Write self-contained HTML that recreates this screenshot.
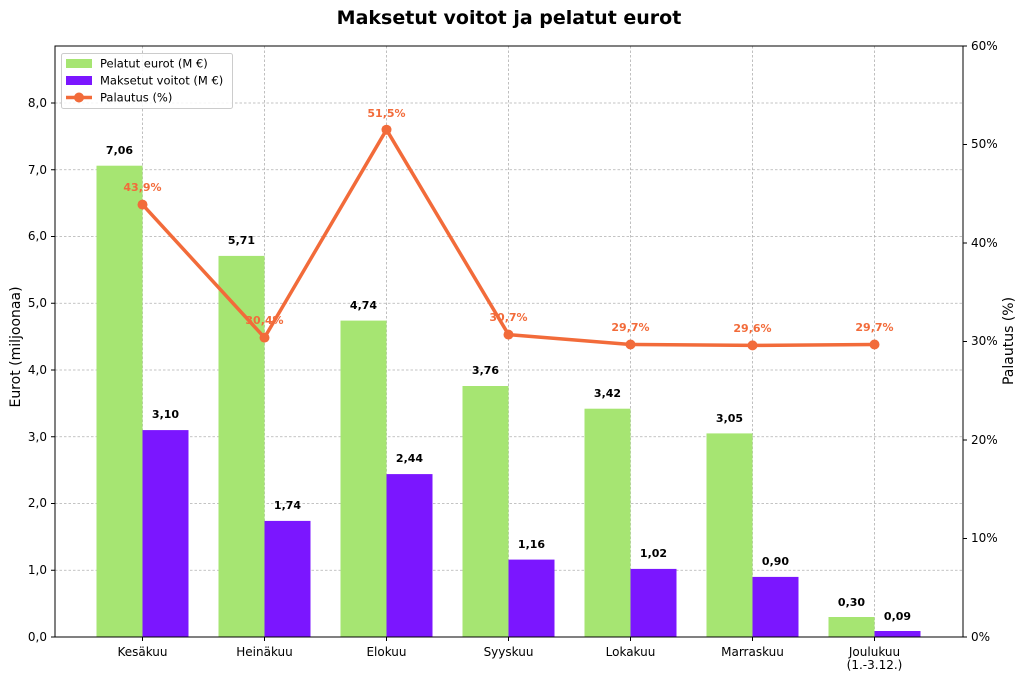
<!DOCTYPE html>
<html><head><meta charset="utf-8"><style>body{margin:0;background:#fff}svg{display:block;font-family:"DejaVu Sans","Liberation Sans",sans-serif}</style></head>
<body>
<svg width="1024" height="679" viewBox="0 0 1024 679" xmlns="http://www.w3.org/2000/svg">
<rect width="1024" height="679" fill="#fff"/>
<text x="509" y="24" text-anchor="middle" font-size="19" font-weight="bold">Maksetut voitot ja pelatut eurot</text>
<g stroke="#b0b0b0" stroke-width="0.8" stroke-dasharray="2.5,2">
<line x1="55" x2="963" y1="570.25" y2="570.25"/><line x1="55" x2="963" y1="503.5" y2="503.5"/><line x1="55" x2="963" y1="436.75" y2="436.75"/><line x1="55" x2="963" y1="370" y2="370"/><line x1="55" x2="963" y1="303.25" y2="303.25"/><line x1="55" x2="963" y1="236.5" y2="236.5"/><line x1="55" x2="963" y1="169.75" y2="169.75"/><line x1="55" x2="963" y1="103" y2="103"/>
<line y1="46" y2="637" x1="142.5" x2="142.5"/><line y1="46" y2="637" x1="264.5" x2="264.5"/><line y1="46" y2="637" x1="386.5" x2="386.5"/><line y1="46" y2="637" x1="508.5" x2="508.5"/><line y1="46" y2="637" x1="630.5" x2="630.5"/><line y1="46" y2="637" x1="752.5" x2="752.5"/><line y1="46" y2="637" x1="874.5" x2="874.5"/>
</g>
<g fill="#a6e572">
<rect x="96.5" y="165.7" width="46" height="471.3"/><rect x="218.5" y="255.9" width="46" height="381.1"/><rect x="340.5" y="320.6" width="46" height="316.4"/><rect x="462.5" y="386" width="46" height="251"/><rect x="584.5" y="408.7" width="46" height="228.3"/><rect x="706.5" y="433.4" width="46" height="203.6"/><rect x="828.5" y="617" width="46" height="20"/>
</g>
<g fill="#7b16ff">
<rect x="142.5" y="430.1" width="46" height="206.9"/><rect x="264.5" y="520.9" width="46" height="116.1"/><rect x="386.5" y="474.1" width="46" height="162.9"/><rect x="508.5" y="559.6" width="46" height="77.4"/><rect x="630.5" y="568.9" width="46" height="68.1"/><rect x="752.5" y="576.9" width="46" height="60.1"/><rect x="874.5" y="631" width="46" height="6"/>
</g>
<g font-size="11" font-weight="bold" text-anchor="middle" fill="#000">
<text x="119.5" y="154">7,06</text><text x="241.5" y="244">5,71</text><text x="363.5" y="309">4,74</text><text x="485.5" y="374">3,76</text><text x="607.5" y="397">3,42</text><text x="729.5" y="422">3,05</text><text x="851.5" y="606">0,30</text>
<text x="165.5" y="418">3,10</text><text x="287.5" y="509">1,74</text><text x="409.5" y="462">2,44</text><text x="531.5" y="548">1,16</text><text x="653.5" y="557">1,02</text><text x="775.5" y="565">0,90</text><text x="897.5" y="620">0,09</text>
</g>
<polyline fill="none" stroke="#f26b3a" stroke-width="3.5" stroke-linejoin="round" points="142.5,204.6 264.5,337.6 386.5,129.7 508.5,334.6 630.5,344.5 752.5,345.4 874.5,344.5"/>
<g fill="#f26b3a">
<circle cx="142.5" cy="204.6" r="5"/><circle cx="264.5" cy="337.6" r="5"/><circle cx="386.5" cy="129.7" r="5"/><circle cx="508.5" cy="334.6" r="5"/><circle cx="630.5" cy="344.5" r="5"/><circle cx="752.5" cy="345.4" r="5"/><circle cx="874.5" cy="344.5" r="5"/>
</g>
<g font-size="11" font-weight="bold" text-anchor="middle" fill="#f26b3a">
<text x="142.5" y="191">43,9%</text><text x="264.5" y="324">30,4%</text><text x="386.5" y="117">51,5%</text><text x="508.5" y="321">30,7%</text><text x="630.5" y="331">29,7%</text><text x="752.5" y="332">29,6%</text><text x="874.5" y="331">29,7%</text>
</g>
<rect x="55" y="46" width="908" height="591" fill="none" stroke="#000" stroke-width="1"/>
<g stroke="#000"><line x1="51" x2="55" y1="637" y2="637"/><line x1="51" x2="55" y1="570.25" y2="570.25"/><line x1="51" x2="55" y1="503.5" y2="503.5"/><line x1="51" x2="55" y1="436.75" y2="436.75"/><line x1="51" x2="55" y1="370" y2="370"/><line x1="51" x2="55" y1="303.25" y2="303.25"/><line x1="51" x2="55" y1="236.5" y2="236.5"/><line x1="51" x2="55" y1="169.75" y2="169.75"/><line x1="51" x2="55" y1="103" y2="103"/>
<line x1="963" x2="967" y1="637" y2="637"/><line x1="963" x2="967" y1="538.5" y2="538.5"/><line x1="963" x2="967" y1="440" y2="440"/><line x1="963" x2="967" y1="341.5" y2="341.5"/><line x1="963" x2="967" y1="243" y2="243"/><line x1="963" x2="967" y1="144.5" y2="144.5"/><line x1="963" x2="967" y1="46" y2="46"/>
<line y1="637" y2="641" x1="142.5" x2="142.5"/><line y1="637" y2="641" x1="264.5" x2="264.5"/><line y1="637" y2="641" x1="386.5" x2="386.5"/><line y1="637" y2="641" x1="508.5" x2="508.5"/><line y1="637" y2="641" x1="630.5" x2="630.5"/><line y1="637" y2="641" x1="752.5" x2="752.5"/><line y1="637" y2="641" x1="874.5" x2="874.5"/></g>
<g font-size="12" text-anchor="end">
<text x="47" y="641">0,0</text><text x="47" y="574">1,0</text><text x="47" y="507">2,0</text><text x="47" y="441">3,0</text><text x="47" y="374">4,0</text><text x="47" y="307">5,0</text><text x="47" y="240">6,0</text><text x="47" y="174">7,0</text><text x="47" y="107">8,0</text>
</g>
<g font-size="12">
<text x="971" y="641">0%</text><text x="971" y="542">10%</text><text x="971" y="444">20%</text><text x="971" y="345">30%</text><text x="971" y="247">40%</text><text x="971" y="148">50%</text><text x="971" y="50">60%</text>
</g>
<g font-size="12" text-anchor="middle">
<text x="142.5" y="656">Kesäkuu</text><text x="264.5" y="656">Heinäkuu</text><text x="386.5" y="656">Elokuu</text><text x="508.5" y="656">Syyskuu</text><text x="630.5" y="656">Lokakuu</text><text x="752.5" y="656">Marraskuu</text><text x="874.5" y="656">Joulukuu</text><text x="874.5" y="669">(1.-3.12.)</text>
</g>
<text transform="translate(20,347) rotate(-90)" font-size="14" text-anchor="middle">Eurot (miljoonaa)</text>
<text transform="translate(1013,341) rotate(-90)" font-size="14" text-anchor="middle">Palautus (%)</text>
<rect x="61.5" y="53.5" width="171" height="55" rx="2" fill="#fff" fill-opacity="0.85" stroke="#ccc"/>
<rect x="66" y="59" width="26" height="9" fill="#a6e572"/>
<rect x="66" y="76" width="26" height="9" fill="#7b16ff"/>
<line x1="66" x2="92" y1="97.5" y2="97.5" stroke="#f26b3a" stroke-width="3.5"/><circle cx="79" cy="97.5" r="5" fill="#f26b3a"/>
<g font-size="11.5"><text x="100" y="67.5">Pelatut eurot (M €)</text><text x="100" y="84.5">Maksetut voitot (M €)</text><text x="100" y="101.5">Palautus (%)</text></g>
</svg>
</body></html>
